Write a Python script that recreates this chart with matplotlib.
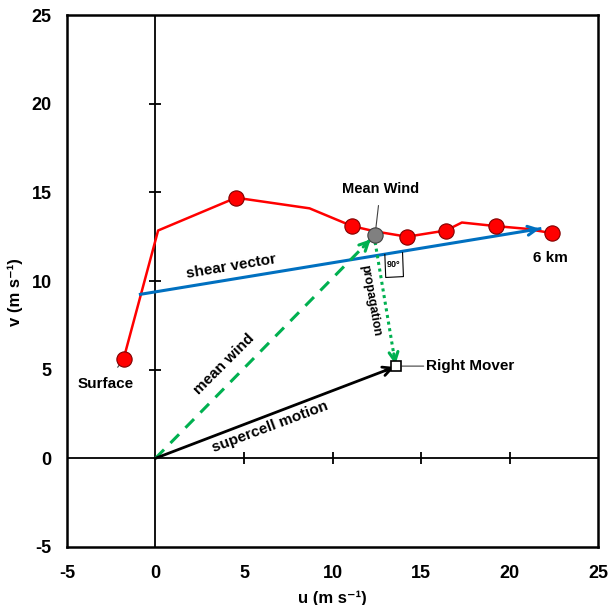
import numpy as np
import matplotlib.pyplot as plt

plt.rcParams['font.family'] = ['Liberation Sans', 'DejaVu Sans']
plt.rcParams['font.weight'] = 'bold'
plt.rcParams['axes.unicode_minus'] = False

# hodograph (u, v) in m/s, surface to 6 km
hodo_u = [-1.8, 0.15, 4.55, 8.7, 11.1, 12.4, 14.2, 16.4, 17.3, 19.2, 20.9, 22.4]
hodo_v = [5.6, 12.85, 14.7, 14.1, 13.1, 12.8, 12.5, 12.85, 13.3, 13.1, 12.95, 12.7]
# points that carry a red dot
dot_u = [-1.8, 4.55, 11.1, 14.2, 16.4, 19.2, 22.4]
dot_v = [5.6, 14.7, 13.1, 12.5, 12.85, 13.1, 12.7]

mean_wind = (12.4, 12.6)
right_mover = (13.6, 5.2)
shear_start = (-0.85, 9.25)
shear_end = (21.7, 12.95)

ticks = [-5, 0, 5, 10, 15, 20, 25]

fig = plt.figure(figsize=(6.08, 6.05), dpi=100)
ax = fig.add_axes([0.110, 0.096, 0.874, 0.879])
ax.set_xlim(-5, 25)
ax.set_ylim(-5, 25)
ax.set_xticks(ticks)
ax.set_yticks(ticks)
ax.tick_params(length=0, labelsize=13)
ax.tick_params(axis='x', pad=13)
ax.tick_params(axis='y', pad=11)
for s in ax.spines.values():
    s.set_linewidth(1.8)

# zero lines with cross ticks
ax.axhline(0, color='k', lw=1.3, zorder=1)
ax.axvline(0, color='k', lw=1.3, zorder=1)
inner = [t for t in ticks if t not in (-5, 0, 25)]
ax.plot(inner, np.zeros(len(inner)), ls='none', marker='|', ms=8, mew=1.3, color='k')
ax.plot(np.zeros(len(inner)), inner, ls='none', marker='_', ms=8, mew=1.3, color='k')

ax.set_xlabel('u (m s\u207b\u00b9)', fontsize=12, fontweight='bold', labelpad=6)
ax.set_ylabel('v (m s\u207b\u00b9)', fontsize=12, fontweight='bold', labelpad=2)
ax.yaxis.set_label_coords(-0.082, 0.48)


def head(p0, p1, color, lw):
    # open arrow head at p1, pointing from p0
    d = np.array(p1) - np.array(p0)
    back = np.array(p1) - d / np.linalg.norm(d) * 0.6
    ax.annotate('', xy=p1, xytext=back,
                arrowprops=dict(arrowstyle='->', color=color, lw=lw,
                                mutation_scale=16, shrinkA=0, shrinkB=0),
                zorder=6)


# hodograph
ax.plot(hodo_u, hodo_v, color='#ff0000', lw=1.8, zorder=3)
ax.plot(dot_u, dot_v, ls='none', marker='o', ms=11, mfc='#ff0000',
        mec='#800000', mew=0.8, zorder=5)
ax.plot(*mean_wind, marker='o', ms=11, mfc='#808080', mec='#404040',
        mew=0.8, zorder=6)

# shear vector
ax.plot([shear_start[0], shear_end[0]], [shear_start[1], shear_end[1]],
        color='#0070c0', lw=2.2, zorder=4)
head(shear_start, shear_end, '#0070c0', 2.2)

# mean wind
ax.plot([0, mean_wind[0] - 0.25], [0, mean_wind[1] - 0.25], color='#00b050',
        lw=2.2, ls=(0, (4, 3)), zorder=4)
head((0, 0), (mean_wind[0] - 0.25, mean_wind[1] - 0.25), '#00b050', 2.2)

# supercell motion
ax.plot([0, right_mover[0] - 0.1], [0, right_mover[1] - 0.05], color='k', lw=2, zorder=4)
head((0, 0), (right_mover[0] - 0.1, right_mover[1] - 0.05), 'k', 2)

# propagation
ax.plot([mean_wind[0], right_mover[0] - 0.05], [mean_wind[1] - 0.4, right_mover[1] + 0.1],
        color='#00b050', lw=2.2, ls=(0, (1, 1.2)), zorder=4)
head(mean_wind, (right_mover[0] - 0.05, right_mover[1] + 0.1), '#00b050', 2.2)

ax.plot(*right_mover, marker='s', ms=7, mfc='white', mec='k', mew=1.2, zorder=7)

# right angle marker
ax.plot([12.95, 13.0, 14.0, 13.95], [11.5, 10.2, 10.25, 11.6], color='k', lw=0.8, zorder=4)
ax.text(13.45, 10.95, '90\u00b0', fontsize=6.5, ha='center', va='center')

# labels
ax.annotate('Mean Wind', xy=mean_wind, xytext=(12.7, 15.2), fontsize=10.5,
            ha='center', va='center',
            arrowprops=dict(arrowstyle='-', color='#404040', lw=0.8, shrinkA=5, shrinkB=4))
ax.annotate('6 km', xy=(22.4, 12.7), xytext=(22.3, 11.3), fontsize=11,
            ha='center', va='center',
            arrowprops=dict(arrowstyle='-', color='#404040', lw=0.8, shrinkA=6, shrinkB=4))
ax.annotate('Surface', xy=(-1.8, 5.6), xytext=(-2.8, 4.2), fontsize=11,
            ha='center', va='center',
            arrowprops=dict(arrowstyle='-', color='#404040', lw=0.8, shrinkA=6, shrinkB=4))
ax.annotate('Right Mover', xy=right_mover, xytext=(15.3, 5.2), fontsize=11,
            ha='left', va='center',
            arrowprops=dict(arrowstyle='-', color='#404040', lw=0.8, shrinkA=0, shrinkB=4))

ax.text(4.3, 10.8, 'shear vector', fontsize=11, rotation=9.5, ha='center', va='center')
ax.text(3.9, 5.3, 'mean wind', fontsize=11, rotation=45, ha='center', va='center')
ax.text(6.45, 1.75, 'supercell motion', fontsize=11, rotation=20.5, ha='center', va='center')
ax.text(12.15, 8.9, 'propagation', fontsize=9, rotation=-80, ha='center', va='center')

fig.savefig('out.png', dpi=100)
